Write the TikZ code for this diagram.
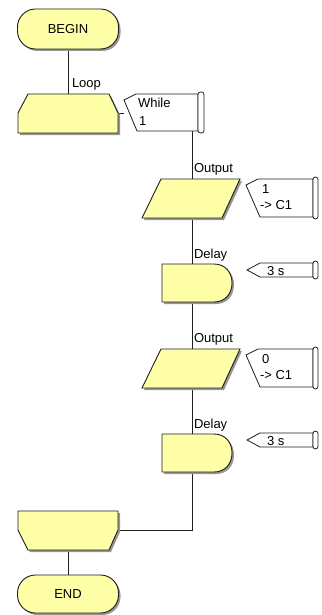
\documentclass[tikz,border=0pt]{standalone}
\usepackage{fontspec}
\setmainfont{Liberation Sans}
\usetikzlibrary{calc}
\definecolor{fy}{RGB}{255,255,168}
\definecolor{shd}{RGB}{150,150,150}
\definecolor{ln}{RGB}{30,30,30}
\tikzset{
  every node/.style={font=\fontsize{13}{15}\selectfont, inner sep=0pt, outer sep=0pt},
  area/.style 2 args={minimum width=#1, minimum height=#2},
  blk/.style={fill=fy, draw=ln, line width=0.9pt},
  shd/.style={fill=shd, draw=none, shift={(2,2)}},
  flagst/.style={fill=white, draw=ln, line width=0.8pt},
  conn/.style={draw=ln, line width=0.9pt},
  lbl/.style={anchor=base west},
}
\newcommand\yshape[1]{\path[shd] #1; \path[blk] #1;}
\newcommand\flagshape[2]{\path[flagst] #1; \path[flagst, rounded corners=2.5] #2;}
\begin{document}
\begin{tikzpicture}[x=1pt, y=-1pt]
\useasboundingbox (0,0) rectangle (321,615);
% named areas
\node[area={101}{40}] (begin) at (68,29) {};
\node[area={100}{39}] (loopS) at (68,113.5) {};
\node[area={74}{37}] (while) at (161,112.5) {};
\node[area={98}{39}] (out1) at (191,198.5) {};
\node[area={67}{38}] (out1f) at (279.5,198) {};
\node[area={70}{38}] (delay1) at (197,283) {};
\node[area={66}{14}] (delay1f) at (280,270) {};
\node[area={98}{39}] (out2) at (191,368.5) {};
\node[area={67}{38}] (out2f) at (279.5,368) {};
\node[area={70}{38}] (delay2) at (197,453) {};
\node[area={66}{14}] (delay2f) at (280,440) {};
\node[area={100}{39}] (loopE) at (68,530.5) {};
\node[area={101}{38}] (end) at (68,594) {};
\coordinate (corner) at (192,530);
% connectors
\draw[conn] (begin.south) -- (loopS.north);
\draw[conn] (loopS.east) -- (loopS.east -| while.west);
\draw[conn] (while.south -| corner) -- (corner) -- (corner -| loopE.east);
\draw[conn] (loopE.south) -- (end.north);
% blocks
\yshape{[rounded corners=18] (17.5,9) rectangle (118.5,49)}
\yshape{(28,94) -- (109,94) -- (118,113) -- (118,133) -- (18,133) -- (18,113) -- cycle}
\yshape{(161,179) -- (240,179) -- (222,218) -- (142,218) -- cycle}
\yshape{(162,264) -- (214,264) .. controls (225,264) and (232,272) .. (232,283) .. controls (232,294) and (225,302) .. (214,302) -- (162,302) -- cycle}
\yshape{(161,349) -- (240,349) -- (222,388) -- (142,388) -- cycle}
\yshape{(162,434) -- (214,434) .. controls (225,434) and (232,442) .. (232,453) .. controls (232,464) and (225,472) .. (214,472) -- (162,472) -- cycle}
\yshape{(18,511) -- (118,511) -- (118,530) -- (109,550) -- (28,550) -- (18,530) -- cycle}
\yshape{[rounded corners=18] (17.5,575) rectangle (118.5,613)}
% flags
\flagshape{(124,100) -- (136,94) -- (198,94) -- (198,131) -- (137,131) -- cycle}{(198,92) rectangle (204,133)}
\flagshape{(246,185) -- (258,179) -- (313,179) -- (313,217) -- (260,217) -- cycle}{(313,177) rectangle (318,219)}
\flagshape{(247,270) -- (260,263) -- (313,263) -- (313,277) -- (260,277) -- cycle}{(313,261) rectangle (318,279)}
\flagshape{(246,355) -- (258,349) -- (313,349) -- (313,387) -- (260,387) -- cycle}{(313,347) rectangle (318,389)}
\flagshape{(247,440) -- (260,433) -- (313,433) -- (313,447) -- (260,447) -- cycle}{(313,431) rectangle (318,449)}
% texts
\node (tBegin) at (begin) {BEGIN};
\node (tEnd) at (end) {END};
\node[lbl] (tLoop) at (72,88) {Loop};
\node[lbl] (tWhile) at (138,108) {While};
\node[lbl] (tWhile1) at (139,125) {1};
\node[lbl] (tOut1) at (194,172) {Output};
\node[lbl] (tOut1a) at (262,193) {1};
\node[lbl] (tOut1b) at (260,209) {-{}> C1};
\node[lbl] (tDel1) at (194,258) {Delay};
\node[lbl] (tDel1a) at (267,275) {3 s};
\node[lbl] (tOut2) at (194,342) {Output};
\node[lbl] (tOut2a) at (262,363) {0};
\node[lbl] (tOut2b) at (260,379) {-{}> C1};
\node[lbl] (tDel2) at (194,428) {Delay};
\node[lbl] (tDel2a) at (267,445) {3 s};
\end{tikzpicture}
\end{document}
